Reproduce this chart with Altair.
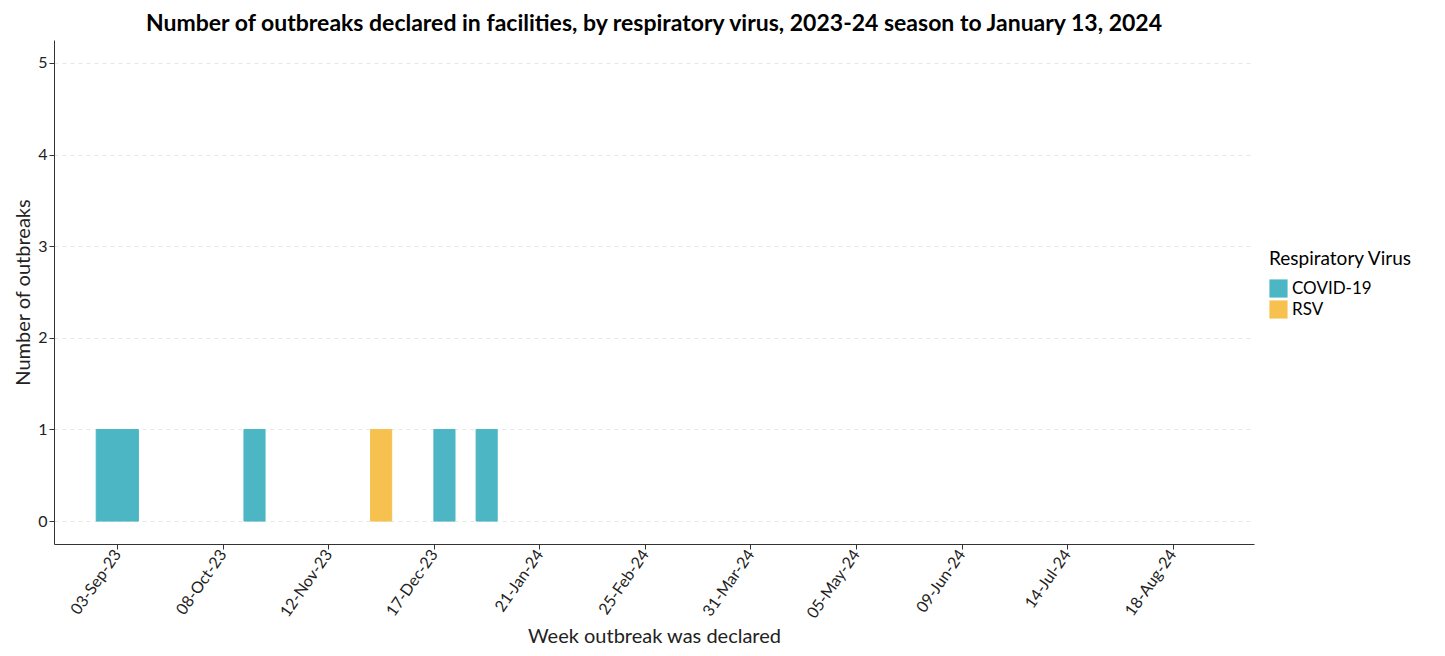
import altair as alt
import pandas as pd

weeks = ["2023-08-27", "2023-09-03", "2023-10-15", "2023-11-26", "2023-12-17", "2023-12-31"]
ends = ["2023-09-03", "2023-09-10", "2023-10-22", "2023-12-03", "2023-12-24", "2024-01-07"]
virus = ["COVID-19", "COVID-19", "COVID-19", "RSV", "COVID-19", "COVID-19"]
counts = [1, 1, 1, 1, 1, 1]

tick_dates = ["2023-09-03", "2023-10-08", "2023-11-12", "2023-12-17", "2024-01-21", "2024-02-25",
              "2024-03-31", "2024-05-05", "2024-06-09", "2024-07-14", "2024-08-18"]

df = pd.DataFrame({"week": weeks, "end": ends, "virus": virus, "n": counts})

font = "Lato"
ticks = [alt.DateTime(year=int(d[:4]), month=int(d[5:7]), date=int(d[8:])) for d in tick_dates]
colors = alt.Scale(domain=["COVID-19", "RSV"], range=["#4db6c4", "#f6c14e"])

chart = alt.Chart(df).mark_bar(strokeWidth=1).encode(
    x=alt.X("week:T", title="Week outbreak was declared",
            scale=alt.Scale(domain=[alt.DateTime(year=2023, month=8, date=13),
                                    alt.DateTime(year=2024, month=9, date=14)]),
            axis=alt.Axis(values=ticks, format="%d-%b-%y", labelAngle=-55, grid=False,
                          labelFontSize=16, titleFontSize=20, titlePadding=6)),
    x2="end:T",
    y=alt.Y("n:Q", title="Number of outbreaks",
            scale=alt.Scale(domain=[-0.25, 5.25], nice=False, zero=False),
            axis=alt.Axis(values=[0, 1, 2, 3, 4, 5], format="d", grid=True, gridDash=[4, 4],
                          gridColor="#e6e6e6", labelFontSize=16, titleFontSize=20)),
    y2=alt.datum(0),
    stroke=alt.Stroke("virus:N", scale=colors, legend=None),
    color=alt.Color("virus:N", title="Respiratory Virus", scale=colors,
                    legend=alt.Legend(orient="none", legendX=1215, legendY=210,
                                      symbolType="square", symbolSize=330, symbolStrokeWidth=0,
                                      labelFontSize=17, titleFontSize=19,
                                      titleFontWeight="normal", titlePadding=10)),
).properties(
    width=1200, height=504,
    title=alt.Title("Number of outbreaks declared in facilities, by respiratory virus, 2023-24 season to January 13, 2024",
                    fontSize=23, font=font, fontWeight="bold", anchor="middle"),
).configure(font=font).configure_view(stroke=None).configure_axis(
    domainColor="#333", tickColor="#333", labelColor="#222", titleColor="#222", titleFontWeight="normal"
)

chart.save("out.html", embed_options={"renderer": "svg", "actions": False})
